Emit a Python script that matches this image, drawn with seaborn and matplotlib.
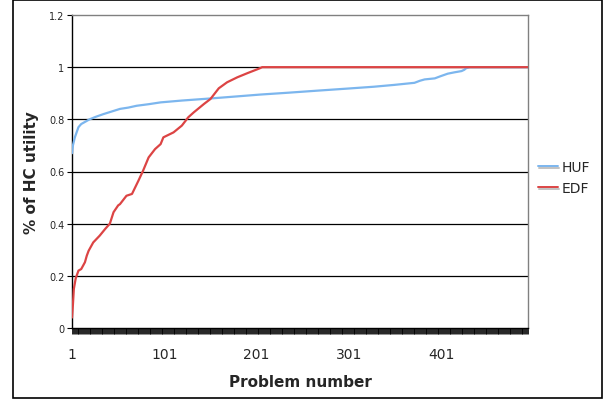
import matplotlib
matplotlib.use('Agg')
import matplotlib.pyplot as plt
import matplotlib.patheffects as pe
from matplotlib.patches import Rectangle
import numpy as np
import pandas as pd
import seaborn as sns

# values (problem number, share of HC utility)
huf_problem = [1, 2, 4, 6, 8, 11, 15, 20, 27, 35, 44, 53, 62, 71, 84, 97, 120, 151, 180,
               205, 235, 267, 300, 328, 350, 372, 378, 383, 394, 400, 408, 415, 423, 426,
               428, 432, 495]
huf_util = [0.67, 0.70, 0.73, 0.75, 0.77, 0.782, 0.79, 0.80, 0.81, 0.82, 0.83, 0.84, 0.845,
            0.852, 0.858, 0.865, 0.872, 0.88, 0.888, 0.895, 0.902, 0.91, 0.918, 0.925, 0.932,
            0.94, 0.948, 0.953, 0.957, 0.965, 0.975, 0.98, 0.985, 0.99, 0.996, 1.0, 1.0]

edf_problem = [1, 2, 3, 5, 8, 11, 15, 17, 19, 24, 31, 37, 40, 42, 46, 51, 53, 60, 66, 73, 78,
               84, 91, 97, 100, 111, 120, 127, 133, 144, 151, 160, 169, 180, 191, 204, 207, 495]
edf_util = [0.04, 0.09, 0.15, 0.19, 0.22, 0.226, 0.252, 0.277, 0.296, 0.328, 0.354, 0.38,
            0.392, 0.40, 0.444, 0.47, 0.475, 0.507, 0.514, 0.565, 0.603, 0.654, 0.686, 0.705,
            0.731, 0.75, 0.776, 0.808, 0.827, 0.859, 0.878, 0.919, 0.942, 0.961, 0.977, 0.995,
            1.0, 1.0]

n_problems = 495
x_labels = ['1', '101', '201', '301', '401']
y_labels = ['0', '0.2', '0.4', '0.6', '0.8', '1', '1.2']

df = pd.concat([
    pd.DataFrame({'problem': huf_problem, 'util': huf_util, 'alg': 'HUF'}),
    pd.DataFrame({'problem': edf_problem, 'util': edf_util, 'alg': 'EDF'}),
])

sns.set_style('white')
plt.rcParams['font.family'] = ['DejaVu Sans']

fig = plt.figure(figsize=(6.07, 4.02), dpi=100)
ax = fig.add_axes([72 / 607, 1 - 329 / 402, 456 / 607, 313 / 402])

# outer chart frame
fig.patches.append(Rectangle((13 / 607, 3 / 402), 589 / 607, 398 / 402, transform=fig.transFigure,
                             fill=False, edgecolor='black', linewidth=1.2))

for y in [0.2, 0.4, 0.6, 0.8, 1.0]:
    ax.axhline(y, color='black', linewidth=0.9, zorder=1)

sns.lineplot(data=df, x='problem', y='util', hue='alg', palette={'HUF': '#7cb6ee', 'EDF': '#dc4444'},
             linewidth=1.6, ax=ax, zorder=3)
for line in ax.lines[-2:]:
    line.set_path_effects([pe.SimpleLineShadow(offset=(0.8, -1.2), shadow_color='#999999', alpha=0.6),
                           pe.Normal()])

ax.set_xlim(1, n_problems)
ax.set_ylim(0, 1.2)
ax.set_xticks([1, 101, 201, 301, 401])
ax.set_xticklabels(x_labels, fontsize=10)
ax.set_xticks(np.arange(1, n_problems + 1), minor=True)
ax.set_yticks([0, 0.2, 0.4, 0.6, 0.8, 1.0, 1.2])
ax.set_yticklabels(y_labels, fontsize=7)
ax.tick_params(axis='x', which='both', direction='out', length=4, width=0.6, color='black',
               bottom=True, pad=10)
ax.tick_params(axis='y', direction='out', length=3.5, width=0.8, color='black', left=True, pad=2)

for side in ['left', 'bottom']:
    ax.spines[side].set_color('black')
    ax.spines[side].set_linewidth(1.0)
for side in ['top', 'right']:
    ax.spines[side].set_color('#808080')
    ax.spines[side].set_linewidth(1.0)

ax.set_xlabel('Problem number', fontsize=11, fontweight='bold', labelpad=9)
ax.set_ylabel('% of HC utility', fontsize=11, fontweight='bold', labelpad=7)

ax.legend(loc='center left', bbox_to_anchor=(0.995, 0.48), frameon=False, fontsize=10,
          handlelength=1.4, handletextpad=0.3, labelspacing=0.5, title=None)
for h in ax.get_legend().get_lines():
    h.set_linewidth(1.4)

fig.savefig('out.png', dpi=100)
